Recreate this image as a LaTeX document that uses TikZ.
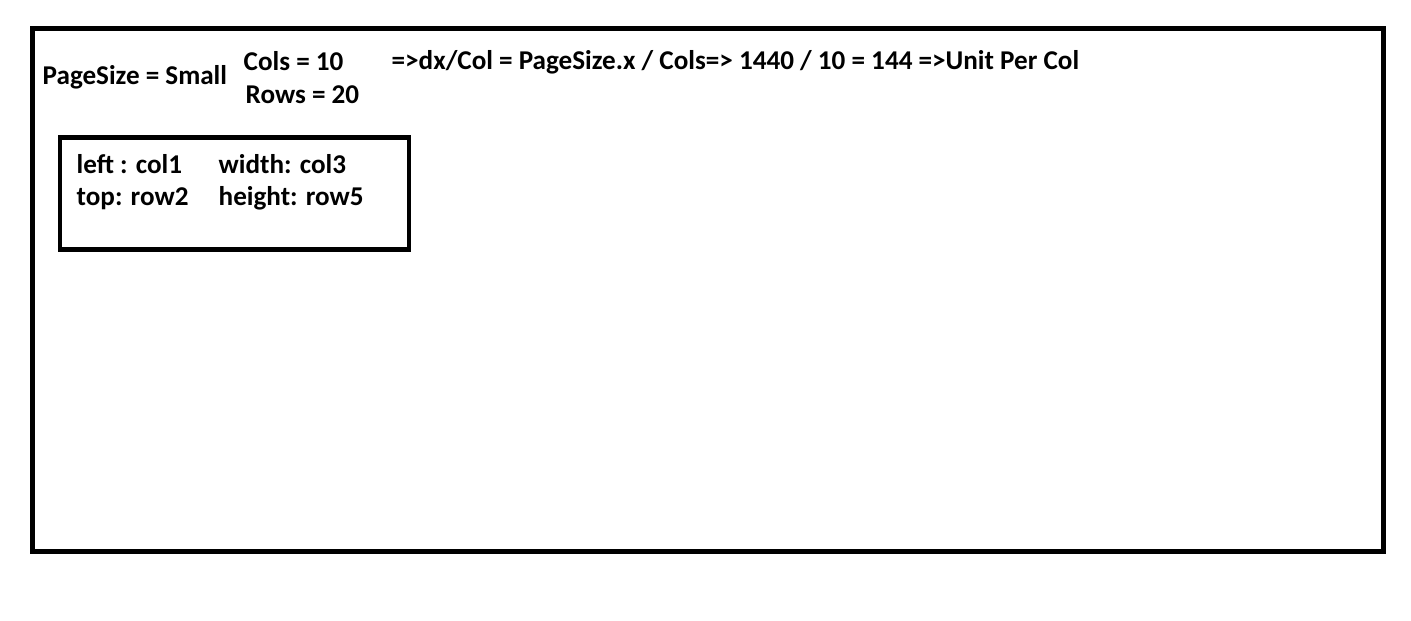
\documentclass[tikz,border=0pt]{standalone}
\usepackage{fontspec}
\setmainfont{Carlito}
\usepackage{tikz}
\usetikzlibrary{positioning}

\tikzset{
  frame/.style={line width=1.42pt},
  txt/.style={anchor=base west, inner sep=0pt, font=\fontsize{7.72}{9}\selectfont\bfseries}
}

\begin{document}
\begin{tikzpicture}[scale=1.0]
    \useasboundingbox (0, 0) rectangle (14.11, -6.20);

            % Page frame
            \draw[frame] (0.325, -0.285) rectangle (13.835, -5.515);

            % Page settings
            \node[txt] (pagesize) at (0.42, -0.843) {PageSize = Small};
            \node[txt] (cols) at (2.43, -0.70) {Cols = 10};
            \node[txt] (rows) at (2.45, -1.03) {Rows = 20};
            \node[txt] (formula) at (3.91, -0.69) {=>dx/Col = PageSize.x / Cols=> 1440 / 10 = 144 =>Unit Per Col};

            % Element box
            \draw[frame] (0.60, -1.375) rectangle (4.09, -2.495);
            \node[txt] (left) at (0.76, -1.73) {left : col1};
            \node[txt] (top) at (0.76, -2.057) {top: row2};
            \node[txt] (width) at (2.18, -1.73) {width: col3};
            \node[txt] (height) at (2.18, -2.057) {height: row5};
        \end{tikzpicture}
\end{document}
